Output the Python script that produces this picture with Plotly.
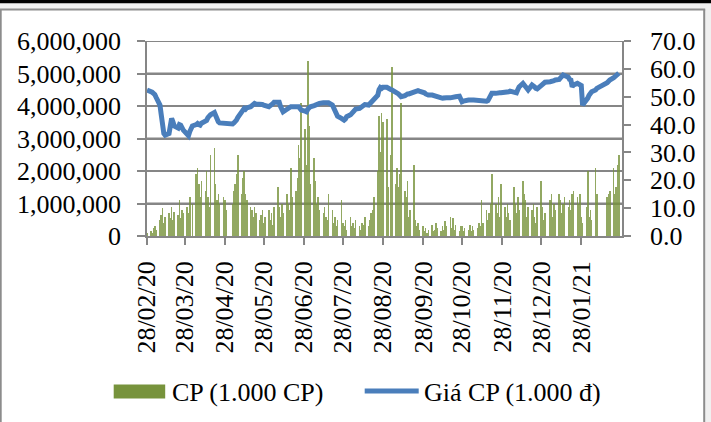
import pandas as pd
import plotly.graph_objects as go

# ---------------- data ----------------
holidays = ["2020-04-02", "2020-04-30", "2020-05-01", "2020-09-02", "2021-01-01",
            "2021-02-10", "2021-02-11", "2021-02-12", "2021-02-15", "2021-02-16"]

# daily traded volume (thousand shares), per month segment (28th -> 27th)
vol_seg1 = [100, 150, 80, 250, 300, 200, 500, 650, 850, 400, 600, 700, 550, 900, 500, 750, 650, 1100, 550, 800, 700]
vol_seg2 = [900, 700, 1200, 1000, 1900, 2100, 1600, 1200, 1700, 1400, 2000, 1200, 900, 2500, 2700, 1600, 1100, 1300, 1000, 1200]
vol_seg3 = [1100, 800, 1000, 1400, 1600, 1900, 2500, 1300, 1800, 2000, 1300, 1100, 900, 800, 600, 900, 700, 500, 650, 800]
vol_seg4 = [400, 600, 800, 500, 700, 350, 900, 1500, 900, 600, 1000, 700, 1300, 1000, 800, 2100, 1200, 1400, 1800, 2800, 2400, 4100]
vol_seg5 = [3300, 2200, 5400, 3400, 1600, 2400, 1700, 1000, 1200, 800, 700, 900, 600, 500, 1300, 800, 400, 600, 300, 500, 1100]
vol_seg6 = [400, 300, 500, 200, 600, 300, 400, 250, 500, 300, 200, 400, 350, 600, 300, 500, 700, 800, 1200, 2000, 3700, 2600, 3800]
vol_seg7 = [3500, 3600, 1500, 2500, 5200, 1600, 2100, 1500, 1900, 4100, 1400, 1200, 1700, 600, 800, 2200, 500, 300, 400, 200]
vol_seg8 = [300, 150, 250, 100, 200, 350, 150, 200, 400, 250, 150, 300, 200, 450, 300, 600, 250, 550, 200, 350, 150, 300]
vol_seg9 = [300, 150, 250, 200, 350, 150, 300, 200, 250, 400, 300, 1100, 400, 800, 500, 700, 1000, 1900, 1000, 700, 1200, 600, 1600]
vol_seg10 = [900, 600, 1000, 700, 500, 1500, 1000, 700, 1200, 800, 1700, 1300, 1100, 600, 900, 800, 1000, 600, 400, 900]
vol_seg11 = [1700, 900, 500, 700, 1100, 1300, 600, 1000, 800, 1300, 1100, 700, 1000, 1200, 900, 1100, 800, 1300, 1400, 1200, 1000, 1300]
vol_seg12 = [600, 400, 900, 2000, 600, 800, 500, 2100, 1300, 1200, 1300, 1400, 2100, 1300, 1500, 2200, 2500]

# closing price (thousand VND)
price_seg1 = [52.4, 52.0, 51.6, 51.2, 50.8, 49.8, 47.0, 43.5, 39.5, 36.8, 36.2, 36.8, 39.5, 42.2, 41.0, 39.5, 38.8, 40.0, 39.8, 38.5, 38.0]
price_seg2 = [36.5, 36.0, 37.5, 39.5, 40.0, 40.4, 40.0, 39.8, 40.5, 41.6, 41.5, 42.5, 43.0, 43.5, 44.3, 43.0, 41.6, 41.0, 40.6, 40.4]
price_seg3 = [40.4, 40.3, 40.2, 40.6, 41.0, 41.6, 42.5, 45.0, 45.5, 45.8, 45.5, 46.0, 46.4, 46.8, 47.2, 47.6, 47.4, 47.4, 47.6, 47.2]
price_seg4 = [47.0, 46.8, 46.4, 46.8, 47.0, 47.5, 48.0, 48.2, 48.0, 46.5, 44.8, 44.6, 45.5, 46.0, 46.4, 46.4, 46.4, 46.4, 46.6, 46.4, 45.8, 45.2]
price_seg5 = [44.8, 44.6, 45.5, 46.4, 46.4, 46.8, 47.0, 47.2, 47.5, 47.6, 47.8, 47.9, 47.9, 48.0, 47.8, 47.0, 46.2, 45.2, 44.0, 43.0, 42.2]
price_seg6 = [41.6, 41.6, 42.0, 42.8, 43.5, 44.2, 44.8, 45.3, 45.6, 45.8, 46.2, 46.6, 47.0, 47.2, 47.0, 47.5, 48.0, 48.2, 48.5, 50.5, 52.5, 53.3, 53.0]
price_seg7 = [53.4, 53.4, 53.0, 52.6, 52.4, 51.8, 51.4, 51.0, 50.5, 50.0, 50.4, 50.8, 51.0, 51.0, 51.2, 51.6, 52.0, 52.2, 52.2, 52.0]
price_seg8 = [51.8, 51.4, 51.0, 50.8, 50.6, 50.6, 50.4, 50.2, 50.0, 49.8, 49.6, 49.5, 49.4, 49.4, 49.6, 49.6, 49.8, 50.0, 50.2, 50.0, 50.2, 49.0]
price_seg9 = [48.2, 48.4, 48.6, 48.8, 48.8, 48.6, 48.8, 48.8, 48.6, 48.5, 48.6, 48.4, 48.4, 48.4, 48.6, 49.5, 51.0, 51.2, 51.2, 51.4, 51.2, 51.4, 51.4]
price_seg10 = [51.4, 51.4, 51.6, 51.8, 52.0, 51.6, 51.2, 51.4, 52.5, 53.5, 54.8, 54.2, 53.0, 52.6, 52.4, 54.2, 54.0, 53.5, 53.0, 52.8]
price_seg11 = [54.0, 54.6, 55.0, 55.2, 55.4, 55.4, 55.6, 55.8, 56.0, 56.2, 56.8, 57.4, 57.8, 57.6, 57.0, 56.2, 56.0, 53.6, 54.2, 54.8, 54.6, 54.4]
price_seg12 = [54.0, 47.0, 48.5, 49.5, 50.5, 51.5, 51.8, 52.4, 53.0, 55.0, 55.6, 56.0, 56.8, 57.2, 57.6, 58.0, 58.5]

tick_dates = ["2020-02-28", "2020-03-28", "2020-04-28", "2020-05-28", "2020-06-28", "2020-07-28",
              "2020-08-28", "2020-09-28", "2020-10-28", "2020-11-28", "2020-12-28", "2021-01-28"]
tick_labels = ["28/02/20", "28/03/20", "28/04/20", "28/05/20", "28/06/20", "28/07/20",
               "28/08/20", "28/09/20", "28/10/20", "28/11/20", "28/12/20", "28/01/21"]
volume_ticks = [0, 1000000, 2000000, 3000000, 4000000, 5000000, 6000000]

series_left = "CP (1.000 CP)"
series_right = "Giá CP (1.000 đ)"

# ---------------- build ----------------
hol = set(pd.to_datetime(holidays))
dates = [d for d in pd.bdate_range("2020-02-28", "2021-02-26") if d not in hol]
volumes = (vol_seg1 + vol_seg2 + vol_seg3 + vol_seg4 + vol_seg5 + vol_seg6 + vol_seg7 +
           vol_seg8 + vol_seg9 + vol_seg10 + vol_seg11 + vol_seg12)
prices = (price_seg1 + price_seg2 + price_seg3 + price_seg4 + price_seg5 + price_seg6 + price_seg7 +
          price_seg8 + price_seg9 + price_seg10 + price_seg11 + price_seg12)
volumes = [v * 1000 for v in volumes]

GREEN = "#77933C"
BLUE = "#4A7EBB"
GRID = "#868686"
FONT = "Liberation Serif"
OUTER = "#f0f0f0"

fig = go.Figure()
fig.add_trace(go.Bar(x=dates, y=volumes, name=series_left, marker_color=GREEN,
                     marker_line_width=0, width=0.45 * 86400000, opacity=0.8, yaxis="y"))
fig.add_trace(go.Scatter(x=dates, y=prices, name=series_right, mode="lines",
                         line=dict(color=BLUE, width=5), yaxis="y2"))

W, H = 711, 422
L, R, T, B = 147.3, 622.3, 41, 236
def px(x):
    return (x - L) / (R - L)
def py(y):
    return (B - y) / (B - T)

def paper_rect(x0, x1, y0, y1, color):
    return dict(type="rect", xref="paper", yref="paper", x0=px(x0), x1=px(x1), y0=py(y1), y1=py(y0),
                fillcolor=color, line=dict(width=0), layer="below")

def paper_line(x0, x1, y0, y1, color, width):
    return dict(type="line", xref="paper", yref="paper", x0=px(x0), x1=px(x1), y0=py(y0), y1=py(y1),
                line=dict(color=color, width=width), layer="below")

shapes = [
    paper_rect(-5, 720, -5, 9.5, OUTER),        # grey strip on top
    paper_rect(704.5, 720, -5, 440, OUTER),     # grey strip on right
    paper_rect(-5, 720, -5, 3.2, "black"),      # black rule on top
    paper_line(1, 1, 9.5, 440, "#8c8c8c", 2),   # frame left
    paper_line(0, 705.5, 9.5, 9.5, "#8c8c8c", 2),  # frame top
    paper_line(704.5, 704.5, 9.5, 440, "#8c8c8c", 2),  # frame right
    # legend swatches
    dict(type="rect", xref="paper", yref="paper", x0=px(114), x1=px(165.5), y0=py(398.5), y1=py(384.5),
         fillcolor=GREEN, line=dict(width=0)),
    dict(type="line", xref="paper", yref="paper", x0=px(365), x1=px(419), y0=py(391), y1=py(391),
         line=dict(color=BLUE, width=5)),
]
# horizontal gridlines on the volume axis (between grid layer and traces)
for v in volume_ticks[1:]:
    shapes.append(dict(type="line", xref="paper", yref="y", x0=0, x1=1, y0=v, y1=v,
                       line=dict(color=GRID, width=2), layer="between"))

annotations = [
    dict(text=series_left, xref="paper", yref="paper", x=px(170), y=py(392), xanchor="left",
         yanchor="middle", showarrow=False, font=dict(family=FONT, size=26, color="black")),
    dict(text=series_right, xref="paper", yref="paper", x=px(422), y=py(392), xanchor="left",
         yanchor="middle", showarrow=False, font=dict(family=FONT, size=26, color="black")),
]

fig.update_layout(
    width=W, height=H,
    margin=dict(l=L, r=W - R, t=T, b=H - B, pad=0),
    paper_bgcolor="white", plot_bgcolor="white",
    font=dict(family=FONT, size=26, color="black"),
    showlegend=False, bargap=0,
    shapes=shapes, annotations=annotations,
    xaxis=dict(type="date", range=["2020-02-28", "2021-02-28 10:00"],
               tickmode="array", tickvals=tick_dates, ticktext=tick_labels, tickangle=-90,
               showgrid=False, showline=True, linecolor=GRID, linewidth=1.5,
               ticks="outside", ticklen=7, tickcolor=GRID, tickwidth=1.5,
               ticklabelstandoff=6, zeroline=False),
    yaxis=dict(range=[0, 6000000], tickmode="array", tickvals=volume_ticks, tickformat=",d",
               showgrid=True, gridcolor=GRID, gridwidth=2,
               showline=True, linecolor=GRID, linewidth=1.5,
               ticks="outside", ticklen=8, tickcolor=GRID, tickwidth=1.5,
               ticklabelstandoff=11, zeroline=False),
    yaxis2=dict(range=[0, 70], dtick=10, tickformat=".1f", overlaying="y", side="right",
                showgrid=False, showline=True, linecolor=GRID, linewidth=1.5,
                ticks="outside", ticklen=7, tickcolor=GRID, tickwidth=1.5,
                ticklabelstandoff=14, zeroline=False),
)

fig.write_html("out.html", config={"displayModeBar": False},
               post_script="document.body.style.margin='0';document.body.style.padding='0';"
                           "document.documentElement.style.overflow='hidden';")
